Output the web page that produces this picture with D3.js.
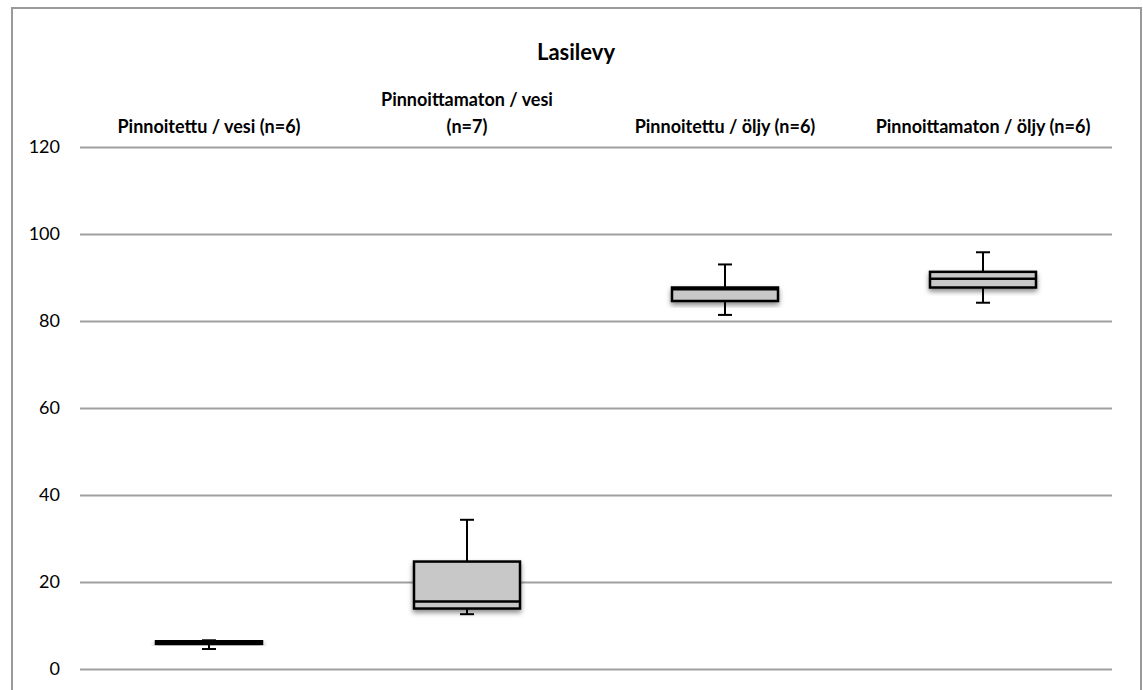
<!DOCTYPE html>
<html>
<head>
<meta charset="utf-8">
<script src="https://cdn.jsdelivr.net/npm/d3@7"></script>
<style>
  body { margin: 0; background: #fff; }
  svg { display: block; }
</style>
</head>
<body>
<svg id="chart"></svg>
<script>
// Box plot values
const title = 'Lasilevy';
const categories = [
  ['Pinnoitettu / vesi (n=6)'],
  ['Pinnoittamaton / vesi', '(n=7)'],
  ['Pinnoitettu / öljy (n=6)'],
  ['Pinnoittamaton / öljy (n=6)']
];
const whiskerLow = [4.6, 12.6, 81.4, 84.2];
const q1 = [5.8, 13.9, 84.6, 87.7];
const median = [6.2, 15.5, 87.3, 89.7];
const q3 = [6.4, 24.7, 87.7, 91.3];
const whiskerHigh = [6.6, 34.3, 93.0, 95.8];
const yTicks = [0, 20, 40, 60, 80, 100, 120];

const W = 1143, H = 690;
const margin = { top: 147, right: 31, bottom: 21, left: 80 };
const font = 'Lato, "Open Sans", sans-serif';

const svg = d3.select('#chart').attr('width', W).attr('height', H);

const defs = svg.append('defs');
const shadow = defs.append('filter').attr('id', 'shadow')
  .attr('x', '-10%').attr('y', '-30%').attr('width', '120%').attr('height', '180%');
shadow.append('feDropShadow')
  .attr('dx', 0).attr('dy', 3).attr('stdDeviation', 2.5)
  .attr('flood-color', '#000').attr('flood-opacity', 0.45);

// outer frame
svg.append('rect')
  .attr('x', 12).attr('y', 8).attr('width', 1129).attr('height', 700)
  .attr('fill', 'none').attr('stroke', '#9a9a9a').attr('stroke-width', 2);

const x = d3.scaleBand()
  .domain(d3.range(categories.length))
  .range([margin.left, W - margin.right])
  .paddingInner(0).paddingOuter(0);

const y = d3.scaleLinear()
  .domain([0, 120])
  .range([H - margin.bottom, margin.top]);

// gridlines + tick labels
const yAxis = svg.append('g')
  .attr('transform', `translate(${margin.left},0)`)
  .call(d3.axisLeft(y).tickValues(yTicks).tickSize(-(W - margin.right - margin.left)).tickPadding(20));
yAxis.select('.domain').remove();
yAxis.selectAll('.tick line').attr('stroke', '#a0a0a0').attr('stroke-width', 2);
yAxis.selectAll('.tick text')
  .attr('fill', '#000')
  .style('font-family', font)
  .style('font-size', '18px');

// title
svg.append('text')
  .attr('x', 576).attr('y', 60)
  .attr('text-anchor', 'middle')
  .style('font-family', font)
  .style('font-weight', 'bold')
  .style('font-size', '22px')
  .text(title);

// category labels at top
svg.append('g').selectAll('text')
  .data(categories)
  .join('text')
  .attr('text-anchor', 'middle')
  .attr('x', (d, i) => x(i) + x.bandwidth() / 2)
  .attr('y', d => 133 - (d.length - 1) * 27)
  .style('font-family', font)
  .style('font-weight', 'bold')
  .style('font-size', '18px')
  .selectAll('tspan')
  .data(d => d)
  .join('tspan')
  .attr('x', function () { return d3.select(this.parentNode).attr('x'); })
  .attr('dy', (d, i) => i === 0 ? 0 : 27)
  .text(d => d);

// boxes
const boxW = 106;
const capW = 12;
const boxes = svg.append('g').selectAll('g')
  .data(d3.range(categories.length))
  .join('g');

boxes.each(function (i) {
  const g = d3.select(this);
  const cx = x(i) + x.bandwidth() / 2;
  // whiskers
  g.append('line')
    .attr('x1', cx).attr('x2', cx)
    .attr('y1', y(whiskerLow[i])).attr('y2', y(whiskerHigh[i]))
    .attr('stroke', '#000').attr('stroke-width', 2);
  [whiskerLow[i], whiskerHigh[i]].forEach(v => {
    g.append('line')
      .attr('x1', cx - capW / 2 - 1).attr('x2', cx + capW / 2 + 1)
      .attr('y1', y(v)).attr('y2', y(v))
      .attr('stroke', '#000').attr('stroke-width', 2);
  });
  // box with shadow
  g.append('rect')
    .attr('x', cx - boxW / 2).attr('width', boxW)
    .attr('y', y(q3[i])).attr('height', Math.max(y(q1[i]) - y(q3[i]), 1))
    .attr('fill', '#c8c8c8').attr('stroke', '#000').attr('stroke-width', 2.5)
    .attr('filter', 'url(#shadow)');
  // median
  g.append('line')
    .attr('x1', cx - boxW / 2).attr('x2', cx + boxW / 2)
    .attr('y1', y(median[i])).attr('y2', y(median[i]))
    .attr('stroke', '#000').attr('stroke-width', 2.5);
});
</script>
</body>
</html>
